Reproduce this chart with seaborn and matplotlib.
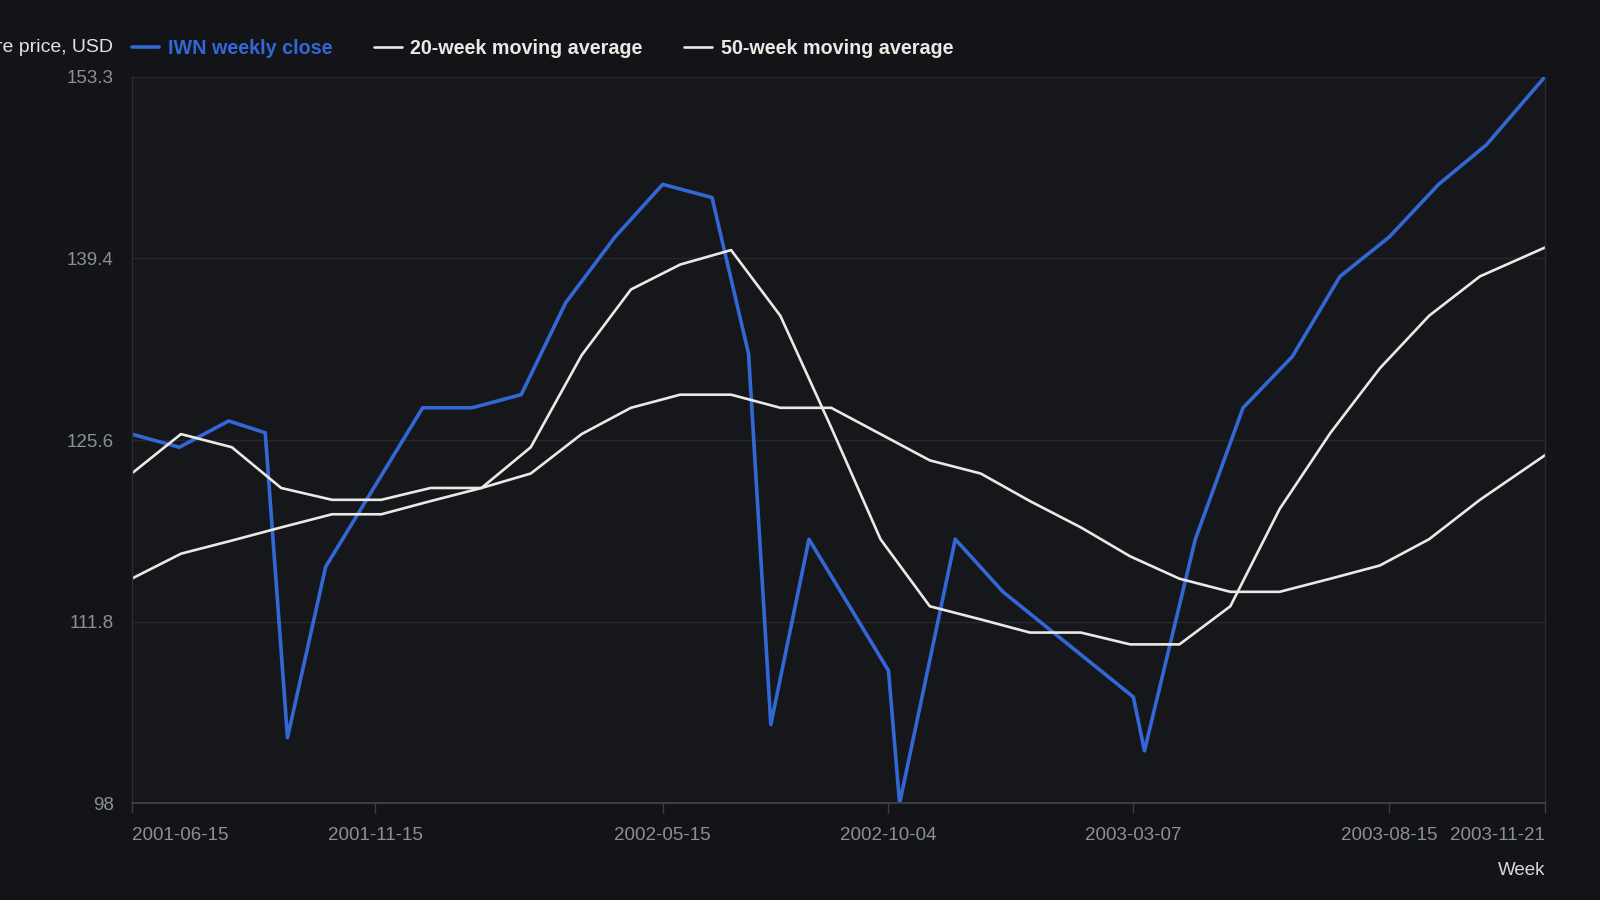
import matplotlib
matplotlib.use("Agg")
import matplotlib.dates as mdates
import matplotlib.pyplot as plt
import pandas as pd
import seaborn as sns

# IWN weekly close
close_weeks = [
    "2001-06-15", "2001-07-15", "2001-08-15", "2001-09-07", "2001-09-21",
    "2001-10-15", "2001-12-15", "2002-01-15", "2002-02-15", "2002-03-15",
    "2002-04-15", "2002-05-15", "2002-06-15", "2002-07-08", "2002-07-22",
    "2002-08-15", "2002-10-04", "2002-10-11", "2002-11-15", "2002-12-15",
    "2003-03-07", "2003-03-14", "2003-04-15", "2003-05-15", "2003-06-15",
    "2003-07-15", "2003-08-15", "2003-09-15", "2003-10-15", "2003-11-21",
]
close_price = [
    126.1, 125.1, 127.1, 126.2, 103.0,
    116.0, 128.1, 128.1, 129.1, 136.1,
    141.1, 145.1, 144.1, 132.2, 104.0,
    118.1, 108.1, 98.0, 118.1, 114.1,
    106.1, 102.0, 118.1, 128.1, 132.0,
    138.1, 141.1, 145.1, 148.1, 153.3,
]

# moving averages
ma_weeks = [
    "2001-06-15", "2001-07-16", "2001-08-17", "2001-09-17", "2001-10-19",
    "2001-11-19", "2001-12-20", "2002-01-21", "2002-02-21", "2002-03-25",
    "2002-04-25", "2002-05-26", "2002-06-27", "2002-07-28", "2002-08-29",
    "2002-09-29", "2002-10-30", "2002-12-01", "2003-01-01", "2003-02-02",
    "2003-03-05", "2003-04-05", "2003-05-07", "2003-06-07", "2003-07-09",
    "2003-08-09", "2003-09-09", "2003-10-11", "2003-11-21",
]
ma20 = [
    123.1, 126.1, 125.1, 122.0, 121.1,
    121.1, 122.0, 122.0, 125.1, 132.1,
    137.1, 139.0, 140.1, 135.1, 126.6,
    118.1, 113.0, 112.0, 111.0, 111.0,
    110.1, 110.1, 113.0, 120.4, 126.2,
    131.1, 135.1, 138.1, 140.3,
]
ma50 = [
    115.1, 117.0, 118.0, 119.0, 120.0,
    120.0, 121.0, 122.0, 123.1, 126.1,
    128.1, 129.1, 129.1, 128.1, 128.1,
    126.1, 124.1, 123.1, 121.0, 119.0,
    116.8, 115.1, 114.1, 114.1, 115.1,
    116.1, 118.1, 121.1, 124.5,
]

tick_weeks = ["2001-06-15", "2001-11-15", "2002-05-15", "2002-10-04",
              "2003-03-07", "2003-08-15", "2003-11-21"]
price_ticks = [98, 111.825, 125.65, 139.475, 153.3]
price_labels = ["98", "111.8", "125.6", "139.4", "153.3"]

BG = "#131418"
PANEL = "#16171b"
BLUE = "#3467d6"
WHITE = "#ebe9e4"
GRAY = "#8c8f95"

sns.set_theme(style="dark")
plt.rcParams["font.family"] = ["Liberation Sans", "DejaVu Sans"]

close = pd.DataFrame({"week": pd.to_datetime(close_weeks), "price": close_price})
ma = pd.DataFrame({"week": pd.to_datetime(ma_weeks), "ma20": ma20, "ma50": ma50})

fig = plt.figure(figsize=(16, 9), dpi=100, facecolor=BG)
ax = fig.add_axes([0.0823, 0.1073, 0.8834, 0.8076], facecolor=PANEL)

sns.lineplot(data=close, x="week", y="price", ax=ax, color=BLUE, lw=2.6,
             label="IWN weekly close")
sns.lineplot(data=ma, x="week", y="ma20", ax=ax, color=WHITE, lw=1.9,
             label="20-week moving average")
sns.lineplot(data=ma, x="week", y="ma50", ax=ax, color=WHITE, lw=1.9,
             label="50-week moving average")

ax.set_xlim(close["week"].iloc[0], close["week"].iloc[-1])
ax.set_ylim(price_ticks[0], price_ticks[-1])

ax.set_yticks(price_ticks)
ax.set_yticklabels(price_labels)
ax.set_xticks(mdates.date2num(pd.to_datetime(tick_weeks)))
ax.set_xticklabels(tick_weeks)
xlabels = ax.get_xticklabels()
xlabels[0].set_ha("left")
xlabels[-1].set_ha("right")

ax.tick_params(axis="x", colors="#3a3c41", labelcolor=GRAY, labelsize=13.5,
               length=7, width=1, pad=10, bottom=True)
ax.tick_params(axis="y", labelcolor=GRAY, labelsize=13.5, length=0, pad=13)

ax.grid(axis="y", color="#26282c", lw=1)
ax.grid(axis="x", visible=False)
for side in ["left", "right"]:
    ax.spines[side].set_visible(True)
    ax.spines[side].set_color("#2a2c31")
    ax.spines[side].set_linewidth(1)
ax.spines["top"].set_visible(False)
ax.spines["bottom"].set_color("#3a3c41")
ax.spines["bottom"].set_linewidth(1.5)

ax.set_ylabel("")
ax.set_xlabel("Week", loc="right", color="#d9d9d9", fontsize=13.5, labelpad=13)

fig.text(113 / 1600, 1 - 47 / 900, "Share price, USD", ha="right", va="center",
         color="#e2e2e2", fontsize=14)

handles, labels = ax.get_legend_handles_labels()
ax.legend(handles, labels, loc="center left",
          bbox_to_anchor=(131.6 / 1600, 1 - 48 / 900), bbox_transform=fig.transFigure,
          ncol=3, frameon=False, prop={"weight": "bold", "size": 14.2},
          handlelength=1.4, handletextpad=0.45, columnspacing=2.1,
          borderpad=0, borderaxespad=0,
          labelcolor=[BLUE, WHITE, WHITE])

fig.savefig("out.png", dpi=100, facecolor=BG)
